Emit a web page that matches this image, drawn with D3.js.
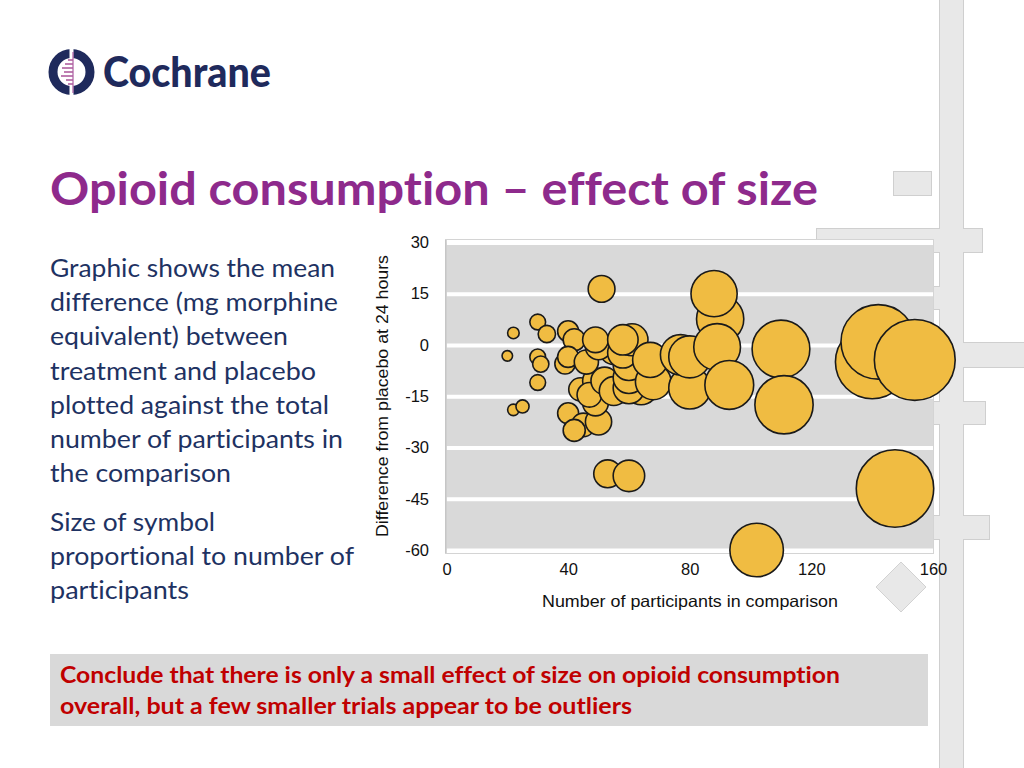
<!DOCTYPE html>
<html>
<head>
<meta charset="utf-8">
<script src="https://cdn.jsdelivr.net/npm/d3@7/dist/d3.min.js"></script>
<style>
  html, body { margin: 0; padding: 0; background: #fff; }
  svg, svg text { display: block; font-variant-ligatures: none; font-feature-settings: "liga" 0, "clig" 0; }
</style>
</head>
<body>
<svg id="slide" width="1024" height="768"></svg>
<script>
// ---------------- DATA ----------------
const titleText = "Opioid consumption \u2013 effect of size";
const logoText = "Cochrane";
const bodyLines1 = ["Graphic shows the mean", "difference (mg morphine", "equivalent) between",
  "treatment and placebo", "plotted against the total", "number of participants in", "the comparison"];
const bodyLines2 = ["Size of symbol", "proportional to number of", "participants"];
const conclusionLines = ["Conclude that there is only a small effect of size on opioid consumption",
  "overall, but a few smaller trials appear to be outliers"];
const xAxisTitle = "Number of participants in comparison";
const yAxisTitle = "Difference from placebo at 24 hours";
const xTicks = [0, 40, 80, 120, 160];
const yTicks = [30, 15, 0, -15, -30, -45, -60];

// participants in comparison (x) and mean difference (y), one per trial
const participants = [22, 20, 30, 33, 30, 31, 30, 22, 25, 51,
  40, 42, 39, 40, 44, 49, 40, 45, 42, 50,
  49, 46, 47, 52, 55, 55, 50, 49, 53, 60,
  64, 65, 60, 60, 60, 58, 61, 58, 68, 67,
  80, 77, 80, 90, 89, 88, 93, 110, 111, 102,
  140, 142, 154, 147.5];
const meanDiff = [3.5, -3.2, 6.7, 3.2, -3.5, -5.6, -11, -19, -18, 16.4,
  4, 1.5, -5.5, -3.5, -13, -10.5, -20, -23.4, -25, -22.5,
  -17, -5, -14.6, -10.5, -1.5, -13.5, -0.5, 1.5, -37.7, -38.3,
  -12.6, -4.5, -12.6, -9.6, -5.8, -2.3, 1.5, 1.5, -10.8, -4.4,
  -12.6, -2.9, -3.5, 7.6, -0.6, 15, -11.7, -1.2, -17.5, -60,
  -5, 0.9, -4.4, -42];

// ---------------- DRAW ----------------
const svg = d3.select("#slide");
svg.append("rect").attr("width", 1024).attr("height", 768).attr("fill", "#fff");

// decorative background shapes (right side)
const deco = svg.append("g");
const decoRects = [
  [940, -2, 23, 772], [817, 229, 165, 23], [963, 343, 62, 24],
  [925, 402, 60, 22], [925, 516, 64, 23], [925, 287, 15, 22], [894, 172, 37, 23]
];
const diamond = "M901,562L926,587L901,612L876,587Z";
["stroke", "fill"].forEach(mode => {
  decoRects.forEach(r => {
    deco.append("rect").attr("x", r[0]).attr("y", r[1]).attr("width", r[2]).attr("height", r[3])
      .attr("fill", mode === "fill" ? "#e8e8e8" : "none")
      .attr("stroke", mode === "fill" ? "none" : "#cfcfcf").attr("stroke-width", 2);
  });
});
deco.append("path").attr("d", diamond).attr("fill", "#e8e8e8").attr("stroke", "#d2d2d2").attr("stroke-width", 1);

function fit(sel, w) { sel.attr("textLength", w).attr("lengthAdjust", "spacingAndGlyphs"); return sel; }

// logo
const logo = svg.append("g");
const navy = "#1f2a5c";
logo.append("circle").attr("cx", 71.5).attr("cy", 72).attr("r", 18.5)
  .attr("fill", "none").attr("stroke", navy).attr("stroke-width", 9);
logo.append("rect").attr("x", 69.5).attr("y", 46).attr("width", 4).attr("height", 52).attr("fill", "#fff");
logo.append("line").attr("x1", 73).attr("x2", 73).attr("y1", 52).attr("y2", 93)
  .attr("stroke", "#9b3d8f").attr("stroke-width", 1);
const tickYs = [[60, 5], [64, 8], [68, 11], [72, 9], [76, 12], [80, 7], [84, 5]];
tickYs.forEach(([ty, len]) => {
  logo.append("line").attr("x1", 73 - len).attr("x2", 73).attr("y1", ty).attr("y2", ty)
    .attr("stroke", "#b0609f").attr("stroke-width", 1.6);
});
fit(logo.append("text").attr("x", 103).attr("y", 87).attr("font-family", "Lato, 'Open Sans', sans-serif")
  .attr("font-weight", 900).attr("font-size", 42).attr("fill", navy).text(logoText), 168);

// title
fit(svg.append("text").attr("x", 50).attr("y", 205).attr("font-family", "Lato, 'Noto Sans', sans-serif")
  .attr("font-weight", 700).attr("font-size", 45).attr("fill", "#8e2a8c").text(titleText), 768);

// body text
const bodyColor = "#1e3262";
const body1W = [285, 288, 238, 266, 279, 293, 181];
bodyLines1.forEach((t, i) => {
  fit(svg.append("text").attr("x", 50).attr("y", 277 + i * 34.2).attr("font-family", "Lato, sans-serif")
    .attr("font-size", 25).attr("fill", bodyColor).text(t), body1W[i]);
});
const body2W = [165, 304, 139];
bodyLines2.forEach((t, i) => {
  fit(svg.append("text").attr("x", 50).attr("y", 531 + i * 34.2).attr("font-family", "Lato, sans-serif")
    .attr("font-size", 25).attr("fill", bodyColor).text(t), body2W[i]);
});

// conclusion box
svg.append("rect").attr("x", 50).attr("y", 654).attr("width", 878).attr("height", 72).attr("fill", "#d9d9d9");
const concW = [780, 572];
conclusionLines.forEach((t, i) => {
  fit(svg.append("text").attr("x", 60).attr("y", 683 + i * 30.5).attr("font-family", "Lato, sans-serif")
    .attr("font-weight", 700).attr("font-size", 23).attr("fill", "#c00000").text(t), concW[i]);
});

// ---------------- CHART ----------------
const x = d3.scaleLinear().domain([0, 160]).range([446.5, 933]);
const y = d3.scaleLinear().domain([-60, 30]).range([550, 242.4]);
const r = d3.scaleLinear().domain([0, 160]).range([0, 42]);

const chart = svg.append("g");
chart.append("rect").attr("x", 445.5).attr("y", 239.5).attr("width", 488).attr("height", 314)
  .attr("fill", "#fff").attr("stroke", "#d4d4d4").attr("stroke-width", 1);
chart.append("rect").attr("x", x(0)).attr("y", y(30)).attr("width", x(160) - x(0)).attr("height", y(-60) - y(30))
  .attr("fill", "#d9d9d9");

const grid = chart.append("g").attr("transform", `translate(${x(0)},0)`)
  .call(d3.axisLeft(y).tickValues(yTicks).tickSize(-(x(160) - x(0))).tickFormat(""));
grid.select(".domain").remove();
grid.selectAll(".tick line").attr("stroke", "#fff").attr("stroke-width", 4);

chart.append("line").attr("x1", 446).attr("x2", 446).attr("y1", 240).attr("y2", 553)
  .attr("stroke", "#bdbdbd").attr("stroke-width", 1.2);

const axisFont = "'Liberation Sans', Arial, sans-serif";
const plain = d => String(d);
const yAx = chart.append("g").attr("transform", "translate(429,0)")
  .call(d3.axisLeft(y).tickValues(yTicks).tickSize(0).tickPadding(0).tickFormat(plain));
yAx.select(".domain").remove();
yAx.selectAll("text").attr("font-family", axisFont).attr("font-size", 16.5).attr("fill", "#111");

const xAx = chart.append("g").attr("transform", "translate(0,563)")
  .call(d3.axisBottom(x).tickValues(xTicks).tickSize(0).tickPadding(0).tickFormat(plain));
xAx.select(".domain").remove();
xAx.selectAll("text").attr("font-family", axisFont).attr("font-size", 16.5).attr("fill", "#111");

fit(chart.append("text").attr("x", 690).attr("y", 607).attr("text-anchor", "middle")
  .attr("font-family", axisFont).attr("font-size", 16.5).attr("fill", "#111")
  .text(xAxisTitle), 296);
fit(chart.append("text").attr("transform", "translate(388,396) rotate(-90)").attr("text-anchor", "middle")
  .attr("font-family", axisFont).attr("font-size", 16.5).attr("fill", "#111")
  .text(yAxisTitle), 282);

// bubbles
const pts = participants.map((n, i) => ({ n, v: meanDiff[i] }));
chart.append("g").selectAll("circle").data(pts).join("circle")
  .attr("cx", d => x(d.n)).attr("cy", d => y(d.v)).attr("r", d => r(d.n))
  .attr("fill", "#f0bc42").attr("stroke", "#1a1a1a").attr("stroke-width", 1.6);
</script>
</body>
</html>
